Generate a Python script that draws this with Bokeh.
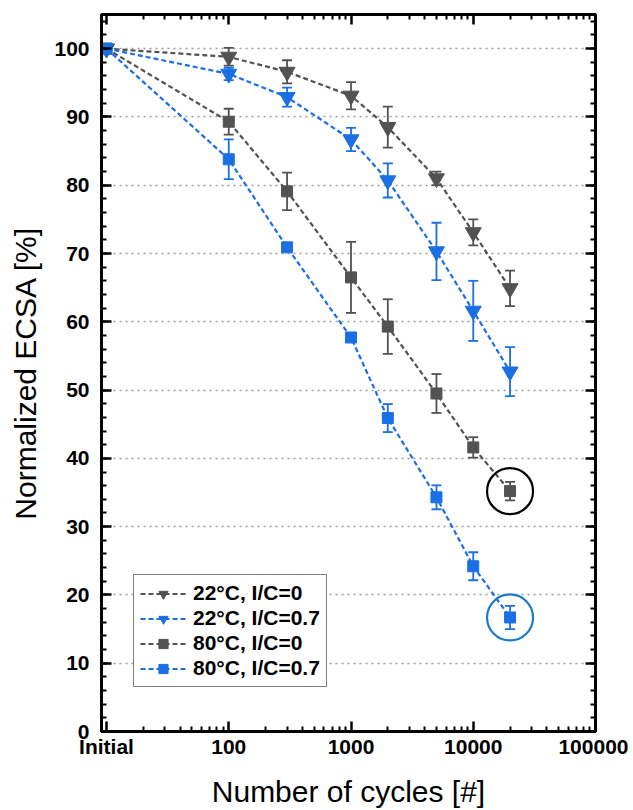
from bokeh.plotting import figure
from bokeh.models import (FixedTicker, SingleIntervalTicker, LinearAxis, LogAxis,
                          Whisker, TeeHead, ColumnDataSource, Legend, LegendItem, Range1d)
from bokeh.embed import file_html
from bokeh.resources import INLINE

# ---------------- data ----------------
cycles = [10, 100, 300, 1000, 2000, 5000, 10000, 20000]   # 10 = "Initial"
x_tick_values = [10, 100, 1000, 10000, 100000]
x_tick_labels = ["Initial", "100", "1000", "10000", "100000"]

labels = ["22°C, I/C=0", "22°C, I/C=0.7", "80°C, I/C=0", "80°C, I/C=0.7"]

ecsa_22_0 = [100, 98.8, 96.6, 93.1, 88.5, 81.0, 73.1, 64.9]
err_22_0 = [0, 1.3, 1.7, 2.0, 3.0, 1.0, 1.9, 2.6]

ecsa_22_07 = [100, 96.3, 92.9, 86.7, 80.7, 70.3, 61.6, 52.7]
err_22_07 = [0, 0.9, 1.4, 1.7, 2.5, 4.2, 4.4, 3.6]

ecsa_80_0 = [100, 89.3, 79.1, 66.5, 59.3, 49.5, 41.6, 35.2]
err_80_0 = [0, 1.9, 2.75, 5.2, 4.0, 2.85, 1.5, 1.35]

ecsa_80_07 = [100, 83.8, 70.9, 57.7, 45.9, 34.3, 24.2, 16.7]
err_80_07 = [0, 2.9, 0, 0.5, 2.05, 1.75, 2.05, 1.7]

GRAY = "#525252"
BLUE = "#1b6fe4"
FONT = "Liberation Sans"

series = [
    (labels[0], ecsa_22_0, err_22_0, GRAY, "inverted_triangle", 16),
    (labels[1], ecsa_22_07, err_22_07, BLUE, "inverted_triangle", 16),
    (labels[2], ecsa_80_0, err_80_0, GRAY, "square", 11),
    (labels[3], ecsa_80_07, err_80_07, BLUE, "square", 11),
]

p = figure(width=628, height=810, x_axis_type="log",
           x_range=Range1d(9.1, 100000), y_range=Range1d(0, 105),
           output_backend="svg", toolbar_location=None,
           min_border_left=101, min_border_right=33,
           min_border_top=14, min_border_bottom=79)

p.outline_line_color = "black"
p.outline_line_width = 3
p.background_fill_color = "white"
p.border_fill_color = "white"

minor_x = [m * 10 ** e for e in range(1, 5) for m in range(2, 10)]
xticker = FixedTicker(ticks=x_tick_values, minor_ticks=minor_x)
yticker = SingleIntervalTicker(interval=10, num_minor_ticks=5)

overrides = {v: l for v, l in zip(x_tick_values, x_tick_labels)}

# bottom axis
xa = p.xaxis[0]
xa.ticker = xticker
xa.major_label_overrides = overrides
xa.axis_label = "Number of cycles [#]"
xa.axis_label_text_font = FONT
xa.axis_label_text_font_style = "normal"
xa.axis_label_text_font_size = "30px"
xa.axis_label_standoff = 14
xa.major_label_text_font = FONT
xa.major_label_text_font_style = "bold"
xa.major_label_text_font_size = "21px"
xa.major_label_standoff = 3

# left axis
ya = p.yaxis[0]
ya.ticker = yticker
ya.axis_label = "Normalized ECSA [%]"
ya.axis_label_text_font = FONT
ya.axis_label_text_font_style = "normal"
ya.axis_label_text_font_size = "30px"
ya.axis_label_standoff = 9
ya.major_label_text_font = FONT
ya.major_label_text_font_style = "bold"
ya.major_label_text_font_size = "21px"
ya.major_label_standoff = 12

for ax in (xa, ya):
    ax.axis_line_color = "black"
    ax.axis_line_width = 3
    ax.major_tick_line_color = "black"
    ax.major_tick_line_width = 2.5
    ax.minor_tick_line_color = "black"
    ax.minor_tick_line_width = 2
    ax.major_tick_in = 10
    ax.major_tick_out = 0
    ax.minor_tick_in = 5
    ax.minor_tick_out = 0
    ax.major_label_text_color = "black"
    ax.axis_label_text_color = "black"

# mirrored axes (ticks only)
top = LogAxis(ticker=xticker)
right = LinearAxis(ticker=yticker)
for ax in (top, right):
    ax.axis_line_color = "black"
    ax.axis_line_width = 3
    ax.major_tick_line_color = "black"
    ax.major_tick_line_width = 2.5
    ax.minor_tick_line_color = "black"
    ax.minor_tick_line_width = 2
    ax.major_tick_in = 10
    ax.major_tick_out = 0
    ax.minor_tick_in = 5
    ax.minor_tick_out = 0
    ax.major_label_text_font_size = "1px"
    ax.major_label_text_alpha = 0
    ax.major_label_standoff = 0
p.add_layout(top, "above")
p.add_layout(right, "right")

# grid
p.xgrid.visible = False
p.ygrid.ticker = yticker
p.ygrid.grid_line_color = "#9a9a9a"
p.ygrid.grid_line_dash = "2 4"
p.ygrid.grid_line_width = 1.5

items = []
for name, ys, es, color, marker, size in series:
    src = ColumnDataSource(data=dict(
        x=cycles, y=ys,
        upper=[a + b for a, b in zip(ys, es)],
        lower=[a - b for a, b in zip(ys, es)],
    ))
    ln = p.line("x", "y", source=src, line_color=color, line_width=2.2, line_dash="5 3")
    w = Whisker(base="x", upper="upper", lower="lower", source=src,
                line_color=color, line_width=1.8,
                upper_head=TeeHead(size=10, line_color=color, line_width=1.8),
                lower_head=TeeHead(size=10, line_color=color, line_width=1.8))
    p.add_layout(w)
    sc = p.scatter("x", "y", source=src, marker=marker, size=size,
                   fill_color=color, line_color=color)
    items.append(LegendItem(label=name, renderers=[ln, sc]))

# highlight circles around the last points of the 80 °C series
p.scatter(x=[cycles[-1]], y=[ecsa_80_0[-1]], marker="circle", size=46,
          fill_color=None, line_color="black", line_width=2.2)
p.scatter(x=[cycles[-1]], y=[ecsa_80_07[-1]], marker="circle", size=46,
          fill_color=None, line_color="#1a7bcc", line_width=2.2)

legend = Legend(items=items, location=(32, 44))
legend.label_text_font = FONT
legend.label_text_font_style = "bold"
legend.label_text_font_size = "21px"
legend.label_text_color = "black"
legend.glyph_width = 46
legend.glyph_height = 23
legend.label_height = 23
legend.spacing = 1
legend.padding = 6
legend.margin = 0
legend.label_standoff = 7
legend.border_line_color = "black"
legend.border_line_width = 1.5
legend.background_fill_alpha = 1
p.add_layout(legend)

open("out.html", "w").write(file_html(p, INLINE))
